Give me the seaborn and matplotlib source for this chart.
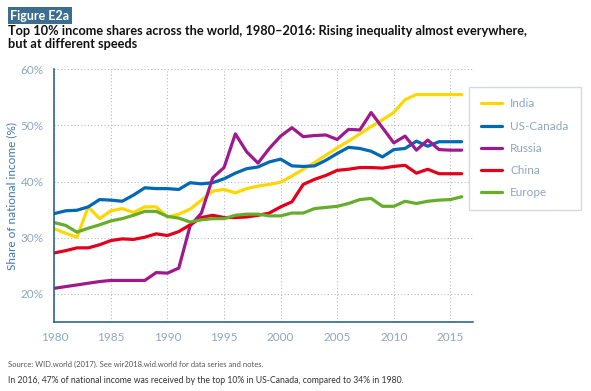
import pandas as pd
import matplotlib.pyplot as plt
import seaborn as sns

sns.set_style("white")
plt.rcParams["font.family"] = ["Lato", "DejaVu Sans"]

years = list(range(1980, 2017))

india = [31.6, 30.8, 30.1, 35.5, 33.4, 34.8, 35.2, 34.5, 35.5, 35.5,
         33.7, 34.2, 35.1, 36.7, 38.3, 38.6, 38.0, 38.75, 39.2, 39.5,
         39.9, 41.0, 42.2, 43.4, 44.7, 46.0, 47.2, 48.5, 49.8, 51.0,
         52.3, 54.6, 55.5, 55.5, 55.5, 55.5, 55.5]
us_canada = [34.3, 34.8, 34.9, 35.5, 36.8, 36.7, 36.5, 37.6, 38.9, 38.75,
             38.75, 38.6, 39.8, 39.6, 39.8, 40.5, 41.5, 42.3, 42.6, 43.5,
             44.0, 42.8, 42.7, 42.8, 43.8, 45.0, 46.1, 45.9, 45.4, 44.4,
             45.7, 45.9, 47.2, 46.3, 47.1, 47.1, 47.1]
russia = [21.0, 21.3, 21.6, 21.9, 22.2, 22.4, 22.4, 22.4, 22.4, 23.8,
          23.7, 24.6, 32.1, 34.4, 40.7, 42.5, 48.5, 45.3, 43.3, 45.9,
          48.1, 49.6, 48.0, 48.2, 48.3, 47.5, 49.3, 49.2, 52.3, 49.6,
          46.9, 48.1, 45.6, 47.4, 45.7, 45.6, 45.6]
china = [27.3, 27.7, 28.2, 28.2, 28.75, 29.5, 29.8, 29.7, 30.1, 30.7,
         30.4, 31.1, 32.3, 33.6, 34.0, 33.6, 33.6, 33.7, 34.0, 34.4,
         35.5, 36.4, 39.5, 40.4, 41.1, 42.0, 42.2, 42.5, 42.5, 42.4,
         42.7, 42.9, 41.5, 42.2, 41.4, 41.4, 41.4]
europe = [32.7, 32.2, 31.0, 31.7, 32.3, 33.0, 33.4, 34.0, 34.7, 34.7,
          33.8, 33.5, 32.8, 33.2, 33.4, 33.4, 34.0, 34.2, 34.2, 33.9,
          33.9, 34.4, 34.4, 35.2, 35.4, 35.6, 36.1, 36.8, 37.0, 35.6,
          35.6, 36.5, 36.1, 36.5, 36.7, 36.8, 37.3]

regions = ["India", "US-Canada", "Russia", "China", "Europe"]
colors = ["#FFD700", "#0068B4", "#A0198C", "#E3001B", "#66AD2C"]

df = pd.concat([
    pd.DataFrame({"Year": years, "Share": vals, "Region": name})
    for name, vals in zip(regions, [india, us_canada, russia, china, europe])
])

fig = plt.figure(figsize=(5.91, 3.91), dpi=100)
ax = fig.add_axes([0.0919, 0.1765, 0.7084, 0.6463])

sns.lineplot(data=df, x="Year", y="Share", hue="Region", hue_order=regions,
             palette=colors, linewidth=2.3, ax=ax)

ax.set_xlim(1980, 2017)
ax.set_ylim(15, 60)
ax.set_xticks(range(1980, 2016, 5))
ax.set_yticks([20, 30, 40, 50, 60])
ax.set_yticklabels(["20%", "30%", "40%", "50%", "60%"])
ax.grid(True, linestyle=(0, (1, 2)), color="#b5bcc4", linewidth=0.8)
ax.set_axisbelow(True)

for side in ["top", "right"]:
    ax.spines[side].set_visible(False)
for side in ["left", "bottom"]:
    ax.spines[side].set_color("#1d5a86")
    ax.spines[side].set_linewidth(1.1)
ax.tick_params(axis="both", colors="#1d5a86", length=4, width=1,
               labelcolor="#8ea7bf", labelsize=8.5)

ax.set_xlabel("")
ax.set_ylabel("Share of national income (%)", color="#3f78a8", fontsize=8.5)
ax.yaxis.set_label_coords(-0.088, 0.5)

leg = ax.legend(loc="upper left", bbox_to_anchor=(0.7936, 0.7783),
                bbox_transform=fig.transFigure, borderaxespad=0,
                frameon=True, fancybox=False, fontsize=8.5,
                handlelength=1.8, labelspacing=0.95, borderpad=1.0,
                handletextpad=0.7)
leg.get_frame().set_edgecolor("#c9d1d9")
leg.get_frame().set_linewidth(1)
for txt in leg.get_texts():
    txt.set_color("#8ea7bf")
for line in leg.get_lines():
    line.set_linewidth(2.3)

fig.text(0.017, 0.975, "Figure E2a", color="white", fontsize=9, fontweight="bold",
         va="top", ha="left",
         bbox=dict(boxstyle="square,pad=0.2", facecolor="#3c6e90", edgecolor="none"))
fig.text(0.014, 0.937,
         "Top 10% income shares across the world, 1980–2016: Rising inequality almost everywhere,\nbut at different speeds",
         color="#111111", fontsize=9.2, fontweight="bold", va="top", ha="left",
         linespacing=1.15)

fig.text(0.014, 0.068, "Source: WID.world (2017). See wir2018.wid.world for data series and notes.",
         color="#555555", fontsize=5.5, va="center", ha="left")
fig.text(0.014, 0.027, "In 2016, 47% of national income was received by the top 10% in US-Canada, compared to 34% in 1980.",
         color="#333333", fontsize=6.2, va="center", ha="left")

fig.savefig("out.png", dpi=100)
